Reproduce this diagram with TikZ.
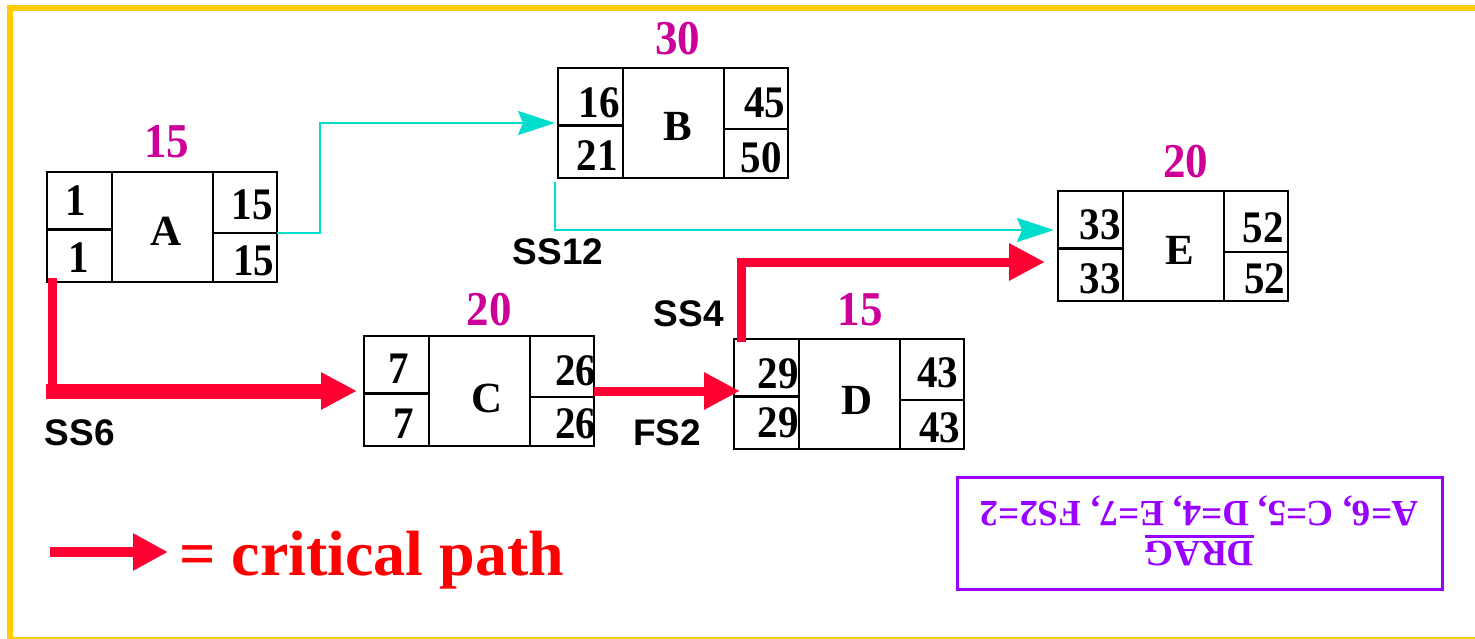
\documentclass[tikz,border=0pt]{standalone}
\usepackage{fontspec}
\usepackage{graphicx}
\setmainfont{Liberation Serif}
\newfontfamily\labelsans{Liberation Sans}
\usetikzlibrary{arrows.meta,calc}

\definecolor{critred}{HTML}{FF0033}
\definecolor{durmag}{HTML}{CC0099}
\definecolor{linkcyan}{HTML}{00DDCC}
\definecolor{dragpurple}{HTML}{9900FF}
\definecolor{frameyellow}{HTML}{FFCC00}

% slightly taller glyphs for the numbers in the activity boxes
\newcommand\cnum[1]{\scalebox{1}[1.1]{#1}}
\newcommand\dnum[1]{\scalebox{1}[1.08]{#1}}

% grid lines inside an activity box (ES/LS | name | EF/LF)
\newcommand\boxgrid[1]{%
  \draw[grid] ($(#1.north west)+(65,0)$) -- ($(#1.south west)+(65,0)$);
  \draw[grid] ($(#1.north west)+(166,0)$) -- ($(#1.south west)+(166,0)$);
  \draw[grid] ($(#1.north west)+(0,57.5)$) -- ($(#1.north west)+(65,57.5)$);
  \draw[grid] ($(#1.north west)+(166,61)$) -- ($(#1.north east)+(0,61)$);
}

\begin{document}
\begin{tikzpicture}[x=1pt,y=-1pt,
  actbox/.style={draw=black,line width=2.5pt,minimum width=230pt,minimum height=110pt,inner sep=0pt,outer sep=0pt},
  grid/.style={draw=black,line width=2.3pt},
  cell/.style={anchor=base,inner sep=0pt,font=\bfseries\fontsize{41pt}{48pt}\selectfont},
  actname/.style={anchor=base,inner sep=0pt,font=\bfseries\fontsize{43pt}{50pt}\selectfont},
  dur/.style={anchor=base,inner sep=0pt,text=durmag,font=\bfseries\fontsize{45pt}{52pt}\selectfont},
  rel/.style={anchor=base west,inner sep=0pt,font=\labelsans\bfseries\fontsize{37pt}{44pt}\selectfont},
  link/.style={draw=linkcyan,line width=2.3pt,-{Stealth[length=37pt,width=24pt,inset=5pt]}},
  critline/.style={draw=critred,line width=9pt},
  critarrow/.style={draw=critred,line width=9pt,-{Triangle[length=36pt,width=35pt]}},
  dragtext/.style={rotate=180,anchor=base,inner sep=0pt,text=dragpurple,font=\bfseries\fontsize{37pt}{44pt}\selectfont}
]
\useasboundingbox (0,0) rectangle (1475,639);
\clip (0,0) rectangle (1475,639);

% frame
\draw[frameyellow,line width=6pt] (10,8) rectangle (1482,640);

% activity boxes
\node[actbox] (A) at (162,227) {};
\node[actbox] (B) at (673,123) {};
\node[actbox] (C) at (479,391) {};
\node[actbox] (D) at (849,394) {};
\node[actbox] (E) at (1173,246) {};
\boxgrid{A}
\boxgrid{B}
\boxgrid{C}
\boxgrid{D}
\boxgrid{E}

% activity A
\node[cell] (A-es) at (76,216) {\cnum{1}};
\node[cell] (A-ls) at (78.5,272) {\cnum{1}};
\node[actname] (A-name) at (166,246) {A};
\node[cell] (A-ef) at (252,220) {\cnum{15}};
\node[cell] (A-lf) at (253.5,275) {\cnum{15}};
\node[dur] (A-dur) at (166.5,158) {\dnum{15}};

% activity B
\node[cell] (B-es) at (599,118) {\cnum{16}};
\node[cell] (B-ls) at (597,171) {\cnum{21}};
\node[actname] (B-name) at (678,141) {B};
\node[cell] (B-ef) at (764.5,118) {\cnum{45}};
\node[cell] (B-lf) at (761,173) {\cnum{50}};
\node[dur] (B-dur) at (677.5,55) {\dnum{30}};

% activity C
\node[cell] (C-es) at (399,383) {\cnum{7}};
\node[cell] (C-ls) at (404,438) {\cnum{7}};
\node[actname] (C-name) at (487,412) {C};
\node[cell] (C-ef) at (575.5,385) {\cnum{26}};
\node[cell] (C-lf) at (575.5,438) {\cnum{26}};
\node[dur] (C-dur) at (489,325) {\dnum{20}};

% activity D
\node[cell] (D-es) at (778,388) {\cnum{29}};
\node[cell] (D-ls) at (778,437) {\cnum{29}};
\node[actname] (D-name) at (857.5,414) {D};
\node[cell] (D-ef) at (937.5,387) {\cnum{43}};
\node[cell] (D-lf) at (939.5,442) {\cnum{43}};
\node[dur] (D-dur) at (860,325) {\dnum{15}};

% activity E
\node[cell] (E-es) at (1100,240) {\cnum{33}};
\node[cell] (E-ls) at (1100,293) {\cnum{33}};
\node[actname] (E-name) at (1180,265) {E};
\node[cell] (E-ef) at (1263,242) {\cnum{52}};
\node[cell] (E-lf) at (1264.5,293) {\cnum{52}};
\node[dur] (E-dur) at (1185.5,178) {\dnum{20}};

% non-critical links
\draw[link,shorten >=3pt] ($(A.east)+(0,6)$) -- ++(43,0) |- (B.west);
\draw[link,shorten >=4pt] ($(B.south west)+(-3,4)$) |- ($(E.west)+(0,-16)$);

% critical path
\coordinate (ss6corner) at ($(A.south west |- C.west)+(5,0)$);
\draw[critline] ($(A.south west)+(5,-4)$) -- (ss6corner);
\draw[critarrow,line width=15pt,shorten >=7pt] ($(ss6corner)+(-6,0)$) -- (ss6corner -| C.west);
\draw[critarrow,shorten >=-6pt] (C.east) -- (C.east -| D.west);
\draw[critarrow,shorten >=13pt] ($(D.north west)+(7,3)$) |- ($(E.west)+(0,16)$);

% relationship labels
\node[rel] (ss12) at (512.5,265) {SS12};
\node[rel] (ss4) at (653.5,326) {SS4};
\node[rel] (fs2) at (633,445) {FS2};
\node[rel] (ss6) at (44.5,445) {SS6};

% legend
\coordinate (legtail) at (50,552);
\coordinate (leghead) at (168,552);
\draw[critarrow,line width=10pt,-{Triangle[length=35pt,width=35pt]}] (legtail) -- (leghead);
\node[anchor=base west,inner sep=0pt,text=red,font=\bfseries\fontsize{64pt}{70pt}\selectfont] (legtext) at (179,575) {= critical path};

% drag box (printed upside down)
\node[draw=dragpurple,line width=3pt,minimum width=485pt,minimum height=112pt,inner sep=0pt,outer sep=0pt] (dragbox) at (1199.5,533) {};
\node[dragtext] (dragvals) at ($(dragbox.center)+(0,-32)$) {A=6, C=5, D=4, E=7, FS2=2};
\node[dragtext] (dragtitle) at ($(dragbox.center)+(0,8)$) {DRAG};
\draw[dragpurple,line width=3pt] ($(dragtitle.base west)+(0,-5)$) -- ($(dragtitle.base east)+(0,-5)$);
\end{tikzpicture}
\end{document}
